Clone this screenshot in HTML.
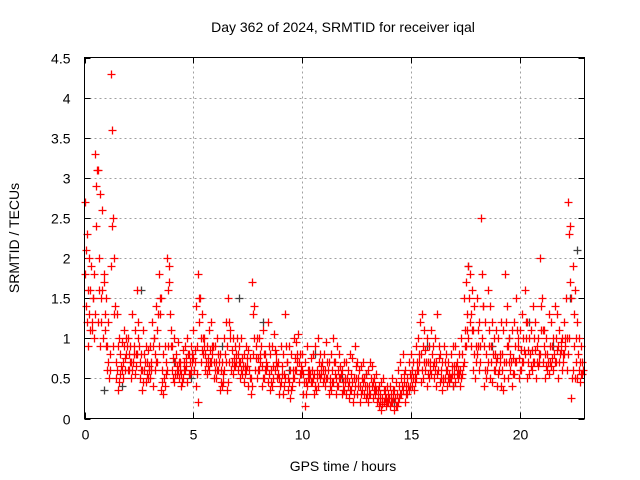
<!DOCTYPE html>
<html><head><meta charset="utf-8"><style>
body{margin:0;background:#fff}
svg{display:block;font-family:"Liberation Sans",sans-serif}
</style></head><body>
<svg id="chart" width="640" height="480">
<text x="343" y="32" font-size="14" text-anchor="middle">Day 362 of 2024, SRMTID for receiver iqal</text>
<text transform="translate(19,238) rotate(-90)" font-size="14" text-anchor="middle">SRMTID / TECUs</text>
<text x="343" y="471" font-size="14" text-anchor="middle">GPS time / hours</text>
<g id="grid"></g>
<g id="ticks"></g>
<g id="marks"></g>
<rect x="84.5" y="57.5" width="500" height="361" fill="none" stroke="#000" stroke-width="1"/>
</svg>
<script>
const startHour = 0, stepHour = 0.1;
const yTicks = [0,0.5,1,1.5,2,2.5,3,3.5,4,4.5];
const yTickLabels = ["0","0.5","1","1.5","2","2.5","3","3.5","4","4.5"];
const xTicks = [0,5,10,15,20];
const xTickLabels = ["0","5","10","15","20"];
const valuesA = [
2.7,2.3,2.0,1.9,1.5,3.3,3.1,2.8,2.6,1.7,
1.5,1.2,4.3,2.5,1.4,1.3,1.0,0.95,1.1,1.0,
1.0,0.9,1.3,1.1,1.6,0.9,0.8,1.1,0.9,0.85,
0.9,1.2,1.0,1.4,1.8,1.5,0.8,0.9,2.0,1.7,
0.9,1.0,0.8,0.95,0.7,0.85,0.9,1.0,0.8,0.9,
1.1,1.4,1.8,1.5,1.3,1.0,0.9,1.1,1.2,0.9,
0.9,1.0,0.8,0.7,1.0,1.2,1.5,1.1,1.0,0.9,
1.0,0.9,1.0,0.8,0.9,0.85,0.75,1.7,1.4,1.0,
1.0,0.9,1.1,0.8,1.2,0.8,0.9,1.05,0.8,0.7,
0.9,0.8,1.3,0.7,0.9,0.8,1.0,0.95,1.05,0.8,
0.8,0.7,0.9,0.6,0.75,0.8,0.9,1.0,0.8,0.7,
0.8,0.95,0.7,0.8,1.0,0.7,0.9,0.8,0.6,0.7,
0.7,0.6,0.8,0.75,0.9,0.7,0.6,0.65,0.7,0.55,
0.6,0.7,0.65,0.5,0.55,0.4,0.45,0.5,0.35,0.4,
0.4,0.5,0.35,0.45,0.6,0.7,0.8,0.6,0.5,0.7,
0.8,0.7,0.9,1.0,1.2,1.3,1.1,1.0,0.9,1.1,
0.9,1.0,1.3,0.8,0.7,0.9,0.8,0.7,0.8,0.9,
0.9,0.7,0.8,1.0,1.5,1.7,1.9,1.8,1.6,1.4,
1.5,1.2,2.5,1.4,1.2,1.6,1.4,1.2,1.0,1.1,
1.0,1.2,1.1,1.8,1.4,1.0,1.1,1.2,1.5,1.0,
1.1,1.3,1.6,1.2,1.0,1.1,1.4,1.2,1.0,2.0,
1.5,1.1,1.0,1.3,1.2,1.0,1.4,1.3,1.1,1.0,
1.2,1.5,2.7,2.4,1.9,1.6,1.2,1.0,0.9];
const valuesB = [
1.8,1.2,1.3,1.1,1.0,2.4,1.2,0.9,1.6,1.1,
0.6,0.5,1.9,0.9,0.5,0.35,0.55,0.6,0.9,0.8,
0.6,0.5,0.7,0.55,0.8,0.5,0.35,0.6,0.45,0.5,
0.5,0.4,0.6,0.7,0.9,0.35,0.3,0.55,0.9,1.3,
0.6,0.45,0.55,0.5,0.4,0.5,0.6,0.45,0.55,0.7,
0.6,0.4,0.2,0.7,0.8,0.6,0.55,0.6,0.7,0.5,
0.5,0.6,0.35,0.4,0.6,0.35,0.7,0.6,0.55,0.65,
0.6,0.5,0.55,0.45,0.6,0.4,0.3,0.8,0.6,0.5,
0.6,0.4,0.5,0.6,0.45,0.35,0.4,0.6,0.5,0.3,
0.45,0.3,0.5,0.35,0.25,0.4,0.5,0.6,0.45,0.55,
0.3,0.15,0.4,0.5,0.45,0.3,0.35,0.4,0.5,0.45,
0.4,0.5,0.3,0.35,0.45,0.3,0.4,0.5,0.3,0.35,
0.3,0.25,0.35,0.2,0.4,0.3,0.2,0.35,0.3,0.25,
0.2,0.3,0.25,0.3,0.2,0.15,0.1,0.2,0.15,0.2,
0.15,0.2,0.1,0.15,0.25,0.3,0.35,0.2,0.3,0.4,
0.4,0.35,0.5,0.6,0.45,0.5,0.6,0.4,0.5,0.55,
0.5,0.4,0.6,0.45,0.35,0.5,0.4,0.45,0.5,0.4,
0.45,0.5,0.4,0.55,0.7,0.9,1.0,0.9,0.6,0.5,
0.8,0.6,1.0,0.4,0.5,0.7,0.5,0.45,0.6,0.4,
0.6,0.4,0.35,0.7,0.5,0.6,0.4,0.55,0.7,0.5,
0.6,0.7,0.8,0.5,0.55,0.6,0.7,0.5,0.65,0.8,
0.7,0.5,0.6,0.55,0.65,0.6,0.7,0.5,0.8,0.6,
0.8,0.6,1.0,0.25,0.6,0.5,0.5,0.45,0.55];
const valuesC = [
1.4,0.9,1.6,1.2,1.8,2.9,2.0,1.5,1.0,1.3,
0.9,0.8,3.6,2.0,0.7,0.9,0.8,0.7,0.6,0.9,
0.8,0.7,0.9,0.8,1.2,0.7,0.6,0.8,0.7,0.65,
0.7,0.9,0.8,1.1,1.3,0.6,0.5,0.7,1.6,0.9,
0.75,0.7,0.65,0.7,0.55,0.7,0.75,0.8,0.7,0.8,
0.85,0.9,1.2,1.0,1.0,0.8,0.75,0.85,0.9,0.7,
0.7,0.8,0.6,0.55,0.8,0.9,1.2,0.85,0.75,0.8,
0.8,0.7,0.75,0.65,0.75,0.6,0.5,1.3,0.9,0.75,
0.8,0.65,0.8,0.7,0.9,0.6,0.65,0.85,0.65,0.5,
0.65,0.55,0.9,0.5,0.6,0.6,0.75,0.8,0.7,0.65,
0.55,0.45,0.6,0.55,0.6,0.55,0.6,0.7,0.65,0.6,
0.6,0.7,0.5,0.6,0.7,0.5,0.6,0.65,0.45,0.5,
0.5,0.45,0.55,0.5,0.65,0.5,0.4,0.5,0.5,0.4,
0.4,0.5,0.45,0.4,0.35,0.3,0.25,0.35,0.25,0.3,
0.3,0.35,0.25,0.3,0.4,0.5,0.55,0.4,0.4,0.55,
0.6,0.55,0.7,0.8,0.8,0.9,0.85,0.7,0.7,0.8,
0.7,0.7,0.9,0.6,0.5,0.7,0.6,0.55,0.65,0.65,
0.65,0.6,0.6,0.8,1.1,1.3,1.5,1.3,1.1,0.9,
1.1,0.9,1.8,0.9,0.8,1.1,0.9,0.8,0.8,0.75,
0.8,0.8,0.7,1.2,0.9,0.8,0.75,0.9,1.1,0.75,
0.85,1.0,1.2,0.85,0.8,0.85,1.0,0.9,0.8,1.4,
1.1,0.8,0.8,0.9,0.9,0.8,1.0,0.9,0.95,0.8,
1.0,1.0,2.3,1.5,1.3,1.0,0.8,0.7,0.7];
const valuesD = [
2.1,1.6,1.1,1.5,1.3,3.1,1.6,1.2,1.8,0.9,
0.7,0.6,2.4,1.3,0.6,0.45,0.65,0.5,0.75,0.6,
0.7,0.6,0.8,0.65,1.0,0.6,0.45,0.7,0.55,0.6,
0.6,1.0,0.7,1.3,1.5,0.45,0.4,0.6,1.9,1.1,
0.5,0.55,0.6,0.6,0.45,0.6,0.65,0.55,0.6,0.75,
0.7,0.55,1.5,0.85,0.9,0.7,0.65,0.7,0.8,0.6,
0.6,0.7,0.45,0.45,0.7,0.45,1.0,0.7,0.65,0.7,
0.7,0.6,0.65,0.55,0.65,0.5,0.4,1.0,0.75,0.6,
0.7,0.5,0.6,0.65,0.55,0.45,0.5,0.7,0.55,0.4,
0.55,0.4,0.7,0.45,0.35,0.5,0.6,0.7,0.55,0.6,
0.45,0.3,0.5,0.45,0.5,0.4,0.5,0.55,0.55,0.5,
0.5,0.6,0.4,0.45,0.55,0.4,0.5,0.55,0.35,0.45,
0.4,0.35,0.45,0.3,0.5,0.4,0.3,0.45,0.4,0.3,
0.3,0.4,0.35,0.35,0.25,0.2,0.18,0.25,0.2,0.25,
0.2,0.25,0.15,0.2,0.3,0.4,0.45,0.3,0.35,0.5,
0.5,0.45,0.6,0.7,0.6,0.7,0.7,0.55,0.6,0.65,
0.6,0.55,0.75,0.5,0.45,0.6,0.5,0.5,0.55,0.55,
0.55,0.55,0.5,0.65,0.9,1.1,1.2,1.1,0.8,0.7,
0.9,0.7,1.4,0.6,0.6,0.9,0.7,0.6,0.7,0.55,
0.7,0.6,0.5,0.9,0.7,0.7,0.55,0.7,0.9,0.6,
0.7,0.85,1.0,0.7,0.65,0.7,0.85,0.7,0.7,1.1,
0.9,0.65,0.7,0.7,0.75,0.7,0.85,0.7,0.85,0.7,
0.9,0.8,1.7,0.5,0.9,0.7,0.6,0.55,0.6];
const grayTimes = [0.9,1.7,2.6,4.1,4.9,6.3,7.1,8.2,9.4,10.6,11.8,12.9,14.2,15.7,16.9,17.6,18.7,19.5,20.4,21.5,22.3,22.6];
const grayValues = [0.35,0.4,1.6,0.7,0.5,0.9,1.5,1.2,0.6,0.8,0.5,0.55,0.2,0.9,0.4,1.9,0.9,1.0,1.2,0.9,1.5,2.1];

const X0=84.5, X1=584.5, Y0=418.5, Y1=57.5, XMAX=22.95, YMAX=4.5;
const xs = h => X0 + (h/XMAX)*(X1-X0);
const ys = v => Y0 - (v/YMAX)*(Y0-Y1);
const NS="http://www.w3.org/2000/svg";
const grid=document.getElementById('grid'), ticks=document.getElementById('ticks'), marks=document.getElementById('marks');
function mk(tag, attrs, parent){const e=document.createElementNS(NS,tag);for(const k in attrs)e.setAttribute(k,attrs[k]);parent.appendChild(e);return e;}
yTicks.forEach((v,i)=>{
  const y=Math.round(ys(v))+0.5;
  if(i>0&&i<yTicks.length-1){const g=mk('line',{x1:X0,x2:X1,y1:y,y2:y,stroke:'#a0a0a0','stroke-dasharray':'2,3'},grid);
  
  }
  mk('line',{x1:X0,x2:X0+6,y1:y,y2:y,stroke:'#000'},ticks);
  mk('line',{x1:X1-6,x2:X1,y1:y,y2:y,stroke:'#000'},ticks);
  const t=mk('text',{x:X0-14,y:y+5,'font-size':14,'text-anchor':'end'},ticks);
  t.textContent=yTickLabels[i];
  
  
});
xTicks.forEach((h,i)=>{
  const x=Math.round(xs(h))+0.5;
  if(i>0){const g=mk('line',{x1:x,x2:x,y1:Y0,y2:Y1,stroke:'#a0a0a0','stroke-dasharray':'2,3'},grid);
  
  }
  mk('line',{x1:x,x2:x,y1:Y0,y2:Y0-6,stroke:'#000'},ticks);
  mk('line',{x1:x,x2:x,y1:Y1,y2:Y1+6,stroke:'#000'},ticks);
  const t=mk('text',{x:x,y:Y0+21,'font-size':14,'text-anchor':'middle'},ticks);
  t.textContent=xTickLabels[i];
  
  
});
function plus(h,v,color,name){
  const x=Math.round(xs(h))+0.5, y=Math.round(ys(v))+0.5;
  const p=mk('path',{d:`M${x-4} ${y}H${x+4}M${x} ${y-4}V${y+4}`,stroke:color,'stroke-width':1.3,fill:'none'},marks);
  
  
}
grayTimes.forEach((h,i)=>plus(h,grayValues[i],'#404040','gray-point'));
[[valuesA,0],[valuesB,0.025],[valuesC,0.05],[valuesD,0.075]].forEach(([arr,off])=>{
  arr.forEach((v,i)=>plus(startHour+i*stepHour+off,v,'#ff0000','srmtid-point'));
});
</script>
</body></html>
